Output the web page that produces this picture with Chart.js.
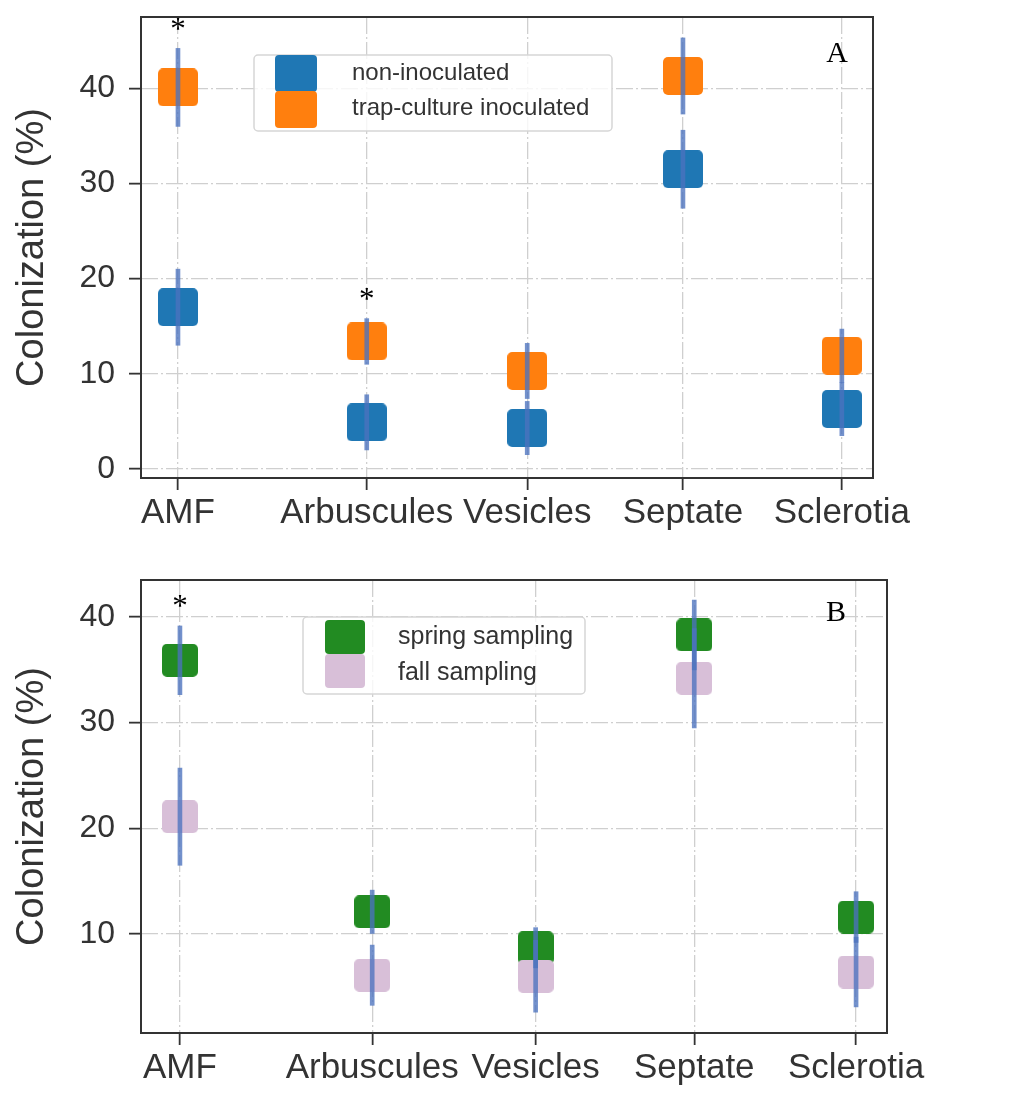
<!DOCTYPE html>
<html>
<head>
<meta charset="utf-8">
<script src="https://cdn.jsdelivr.net/npm/chart.js@4.4.1/dist/chart.umd.min.js"></script>
<style>
  html, body { margin: 0; padding: 0; background: #fff; }
  #wrap { position: relative; width: 1030px; height: 1101px; }
  canvas { position: absolute; left: 0; }
  #chartA { top: 0; }
  #chartB { top: 545px; }
</style>
</head>
<body>
<div id="wrap">
  <canvas id="chartA" width="1030" height="545"></canvas>
  <canvas id="chartB" width="1030" height="556"></canvas>
</div>
<script>
// categories and where they sit on the x axis (category units)
var categories = ["AMF", "Arbuscules", "Vesicles", "Septate", "Sclerotia"];
var catSlots = [0, 1.2, 2.22, 3.21, 4.22];

// panel A
var yTicksA = [0, 10, 20, 30, 40];
var nonInoculated = [17.0, 4.9, 4.3, 31.5, 6.3];
var nonInoculatedErr = [4.0, 2.9, 2.8, 4.1, 2.8];
var trapCulture = [40.1, 13.4, 10.3, 41.3, 11.9];
var trapCultureErr = [4.1, 2.4, 2.9, 4.0, 2.8];
var starsA = [true, true, false, false, false];

// panel B
var yTicksB = [10, 20, 30, 40];
var springSampling = [35.9, 12.1, 8.7, 38.3, 11.6];
var springSamplingErr = [3.25, 2.05, 1.9, 3.3, 2.4];
var fallSampling = [21.1, 6.1, 6.0, 34.2, 6.4];
var fallSamplingErr = [4.6, 2.85, 3.4, 4.7, 3.3];
var starsB = [true, false, false, false, false];

Chart.defaults.font.family = "'Liberation Sans', Arial, Helvetica, sans-serif";
Chart.defaults.color = '#333';

var ERR_COLOR = 'rgba(76,114,190,0.78)';
var GRID_DASH = [17, 3, 2, 3];

function squareImage(color, w, h, r) {
  var c = document.createElement('canvas');
  c.width = w; c.height = h;
  var g = c.getContext('2d');
  g.fillStyle = color;
  g.beginPath();
  g.roundRect(0, 0, w, h, r);
  g.fill();
  return c;
}

function points(vals) {
  return vals.map(function (v, i) { return {x: catSlots[i], y: v}; });
}
function errBars(vals, errs) {
  return vals.map(function (v, i) { return {x: catSlots[i], y: [v - errs[i], v + errs[i]]}; });
}

var framePlugin = {
  id: 'frame',
  afterDraw: function (chart) {
    var a = chart.chartArea, ctx = chart.ctx;
    ctx.save();
    ctx.strokeStyle = '#333';
    ctx.lineWidth = 2;
    ctx.strokeRect(a.left, a.top, a.right - a.left, a.bottom - a.top);
    ctx.restore();
  }
};

var starPlugin = {
  id: 'stars',
  afterDatasetsDraw: function (chart, args, opts) {
    var ctx = chart.ctx, xs = chart.scales.x, ys = chart.scales.y;
    var tops = [];
    chart.data.datasets.forEach(function (ds) {
      if (ds.type !== 'bar') return;
      ds.data.forEach(function (d, i) { tops[i] = Math.max(tops[i] === undefined ? -Infinity : tops[i], d.y[1]); });
    });
    ctx.save();
    ctx.font = '31px "Liberation Serif", "Times New Roman", serif';
    ctx.fillStyle = '#000';
    ctx.textAlign = 'center';
    ctx.textBaseline = 'middle';
    opts.flags.forEach(function (f, i) {
      if (!f) return;
      ctx.fillText('*', xs.getPixelForValue(catSlots[i]), ys.getPixelForValue(tops[i]) - opts.gap);
    });
    ctx.restore();
  }
};

var panelLabelPlugin = {
  id: 'panelLabel',
  afterDraw: function (chart, args, opts) {
    var a = chart.chartArea, ctx = chart.ctx;
    ctx.save();
    ctx.font = '30px "Liberation Serif", "Times New Roman", serif';
    ctx.fillStyle = '#000';
    ctx.textAlign = 'center';
    ctx.textBaseline = 'alphabetic';
    ctx.fillText(opts.text, a.right - opts.dx, a.top + opts.dy);
    ctx.restore();
  }
};

var boxLegendPlugin = {
  id: 'boxLegend',
  afterDraw: function (chart, args, o) {
    var a = chart.chartArea, ctx = chart.ctx;
    var bx = a.left + o.x, by = a.top + o.y;
    ctx.save();
    ctx.fillStyle = 'rgba(255,255,255,0.8)';
    ctx.strokeStyle = '#d6d6d6';
    ctx.lineWidth = 1.5;
    ctx.beginPath();
    ctx.roundRect(bx, by, o.w, o.h, 4);
    ctx.fill();
    ctx.stroke();
    var items = chart.data.datasets.filter(function (ds) { return ds.type !== 'bar'; });
    items.forEach(function (ds, i) {
      ctx.fillStyle = ds.legendColor;
      ctx.beginPath();
      ctx.roundRect(bx + o.sqX, by + o.sqY[i], o.sqW, o.sqH, 4);
      ctx.fill();
    });
    ctx.font = o.fontSize + "px 'Liberation Sans', Arial, sans-serif";
    ctx.fillStyle = '#333';
    ctx.textAlign = 'left';
    ctx.textBaseline = 'middle';
    items.forEach(function (ds, i) {
      ctx.fillText(ds.label, bx + o.textX, by + o.textY[i]);
    });
    ctx.restore();
  }
};

function axes(cfg) {
  return {
    x: {
      type: 'linear', min: cfg.xMin, max: cfg.xMax, offset: false,
      afterBuildTicks: function (s) { s.ticks = catSlots.map(function (v) { return {value: v}; }); },
      afterFit: function (s) { s.height = cfg.xHeight; s.paddingLeft = 0; s.paddingRight = 0; },
      grid: { offset: false, color: '#cfcfcf', lineWidth: 1.3, tickLength: 12, tickColor: '#333', tickWidth: 1.8 },
      border: { display: false, dash: GRID_DASH },
      ticks: {
        color: '#333', font: {size: 35}, padding: 2, autoSkip: false, maxRotation: 0, minRotation: 0,
        callback: function (v, i) { return categories[i]; }
      }
    },
    y: {
      type: 'linear', min: cfg.yMin, max: cfg.yMax,
      afterBuildTicks: function (s) { s.ticks = cfg.yTicks.map(function (v) { return {value: v}; }); },
      afterFit: function (s) { s.width = 141; s.paddingTop = 0; s.paddingBottom = 0; },
      grid: { color: '#cfcfcf', lineWidth: 1.3, tickLength: 12, tickColor: '#333', tickWidth: 1.8 },
      border: { display: false, dash: GRID_DASH },
      ticks: { color: '#333', font: {size: 32}, padding: 14 },
      title: { display: true, text: 'Colonization (%)', color: '#333', font: {size: 38}, padding: {top: 10, bottom: 0} }
    }
  };
}

var sqA = 40, sqAh = 38, sqB = 36, sqBh = 33;

var chartA = new Chart(document.getElementById('chartA').getContext('2d'), {
  type: 'scatter',
  data: {
    datasets: [{
      type: 'scatter', label: 'non-inoculated', data: points(nonInoculated), order: 3,
      pointStyle: squareImage('#1f77b4', sqA, sqAh, 5), pointRadius: 20, legendColor: '#1f77b4'
    }, {
      type: 'scatter', label: 'trap-culture inoculated', data: points(trapCulture), order: 2,
      pointStyle: squareImage('#ff7f0e', sqA, sqAh, 5), pointRadius: 20, legendColor: '#ff7f0e'
    }, {
      type: 'bar', label: 'err1', data: errBars(nonInoculated, nonInoculatedErr), order: 1,
      backgroundColor: ERR_COLOR, borderWidth: 0, barThickness: 4, grouped: false
    }, {
      type: 'bar', label: 'err2', data: errBars(trapCulture, trapCultureErr), order: 1,
      backgroundColor: ERR_COLOR, borderWidth: 0, barThickness: 4, grouped: false
    }]
  },
  options: {
    responsive: false, animation: false,
    layout: { autoPadding: false, padding: {top: 17, right: 157, bottom: 0, left: 0} },
    scales: axes({xMin: -0.235, xMax: 4.418, xHeight: 67, yMin: -0.95, yMax: 47.5, yTicks: yTicksA}),
    plugins: {
      legend: {display: false}, tooltip: {enabled: false},
      stars: {flags: starsA, gap: 18},
      panelLabel: {text: 'A', dx: 36, dy: 45},
      boxLegend: {x: 113, y: 38, w: 358, h: 76, sqX: 21, sqW: 42, sqH: 37, sqY: [0, 36], textX: 98, textY: [18, 53], fontSize: 24}
    }
  },
  plugins: [framePlugin, starPlugin, panelLabelPlugin, boxLegendPlugin]
});

var chartB = new Chart(document.getElementById('chartB').getContext('2d'), {
  type: 'scatter',
  data: {
    datasets: [{
      type: 'scatter', label: 'spring sampling', data: points(springSampling), order: 3,
      pointStyle: squareImage('#228b22', sqB, sqBh, 5), pointRadius: 18, legendColor: '#228b22'
    }, {
      type: 'scatter', label: 'fall sampling', data: points(fallSampling), order: 2,
      pointStyle: squareImage('#d8bfd8', sqB, sqBh, 5), pointRadius: 18, legendColor: '#d8bfd8'
    }, {
      type: 'bar', label: 'err1', data: errBars(springSampling, springSamplingErr), order: 1,
      backgroundColor: ERR_COLOR, borderWidth: 0, barThickness: 4, grouped: false
    }, {
      type: 'bar', label: 'err2', data: errBars(fallSampling, fallSamplingErr), order: 1,
      backgroundColor: ERR_COLOR, borderWidth: 0, barThickness: 4, grouped: false
    }]
  },
  options: {
    responsive: false, animation: false,
    layout: { autoPadding: false, padding: {top: 35, right: 143, bottom: 0, left: 0} },
    scales: axes({xMin: -0.243, xMax: 4.413, xHeight: 68, yMin: 0.63, yMax: 43.5, yTicks: yTicksB}),
    plugins: {
      legend: {display: false}, tooltip: {enabled: false},
      stars: {flags: starsB, gap: 18},
      panelLabel: {text: 'B', dx: 51, dy: 41},
      boxLegend: {x: 162, y: 37, w: 282, h: 77, sqX: 22, sqW: 40, sqH: 34, sqY: [3, 37], textX: 95, textY: [20, 56], fontSize: 25}
    }
  },
  plugins: [framePlugin, starPlugin, panelLabelPlugin, boxLegendPlugin]
});
</script>
</body>
</html>
